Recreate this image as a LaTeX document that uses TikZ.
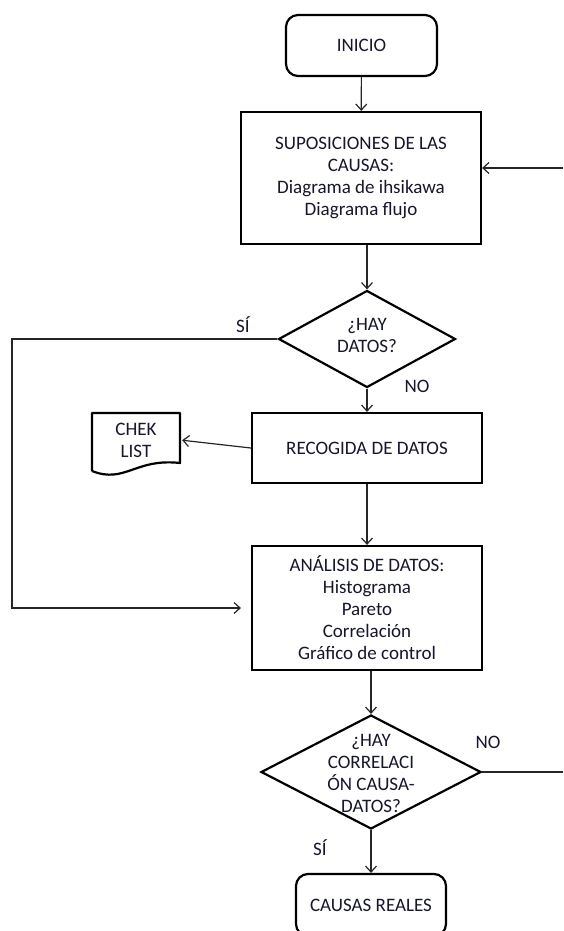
\documentclass[tikz,border=0pt]{standalone}
\usepackage{fontspec}
\setmainfont{Carlito}
\usetikzlibrary{shapes.geometric,arrows.meta}
\definecolor{ink}{RGB}{22,22,44}
\tikzset{
  box/.style={draw=black, line width=2.2pt, rectangle, inner sep=0pt, align=center, text=ink},
  rbox/.style={box, rounded corners=12pt},
  decision/.style={draw=black, line width=2.2pt, diamond, inner sep=0pt, align=center, text=ink},
  conn/.style={draw=black!85, line width=1.2pt},
  arr/.style={conn, -{Straight Barb[length=6pt,width=11pt,line width=1.2pt]}},
  lbl/.style={text=ink, inner sep=0pt}
}
\begin{document}
\begin{tikzpicture}[x=1pt, y=-1pt, font=\fontsize{19}{22}\selectfont]
\useasboundingbox (0,0) rectangle (563,931);
\fill[white] (0,0) rectangle (563,931);

% process nodes
\node[rbox, minimum width=151pt, minimum height=61pt] (inicio) at (361.5,45.5) {INICIO};
\node[box, minimum width=240pt, minimum height=132pt] (sup) at (361,178)
  {SUPOSICIONES DE LAS\\CAUSAS:\\Diagrama de ihsikawa\\Diagrama flujo};
\node[decision, minimum width=177pt, minimum height=97pt] (d1) at (367,339) {};
\node[lbl, align=center] (d1t) at (367,335) {¿HAY\\DATOS?};
\node[box, minimum width=230pt, minimum height=70pt] (rec) at (367,448) {RECOGIDA DE DATOS};
\node[box, minimum width=230pt, minimum height=124pt] (ana) at (367,608)
  {ANÁLISIS DE DATOS:\\Histograma\\Pareto\\Correlación\\Gráfico de control};
\node[decision, minimum width=220pt, minimum height=114pt] (d2) at (371,772) {};
\node[lbl, align=center] (d2t) at (371,773) {¿HAY\\CORRELACI\\ÓN CAUSA-\\DATOS?};
\node[rbox, minimum width=150pt, minimum height=62pt] (causas) at (371,905) {CAUSAS REALES};

% document symbol
\draw[line width=2.2pt, line join=round] (92,471) -- (92,413) -- (180,413) -- (180,463)
  .. controls (135,458) and (125,484) .. (92,471);
\node[lbl, align=center, minimum width=88pt, minimum height=50pt] (chek) at (136,440) {CHEK\\LIST};

% free ends of connectors
\coordinate (fb) at (563,168);
\coordinate (lp) at (12,339);
\coordinate (noend) at (563,772);

% connectors
\draw[arr] (inicio) -- (sup);
\draw[arr] (sup.south -| d1) -- (d1);
\draw[arr] (d1) -- (rec);
\draw[arr] (rec) -- (ana);
\draw[arr] (ana.south -| d2) -- (d2);
\draw[arr] (d2) -- (causas);
\draw[arr, shorten >=2pt] (rec.west) -- (chek.east);
\draw[arr] (fb) -- (fb -| sup.east);
\draw[arr] (d1.west) -- (lp) |- ([xshift=-10pt]ana.west);
\draw[conn] (d2.east) -- (noend);

% branch labels
\node[lbl] (si1) at (243,325) {SÍ};
\node[lbl] (no1) at (417,386) {NO};
\node[lbl] (no2) at (488,742) {NO};
\node[lbl] (si2) at (320,848) {SÍ};
\end{tikzpicture}
\end{document}
